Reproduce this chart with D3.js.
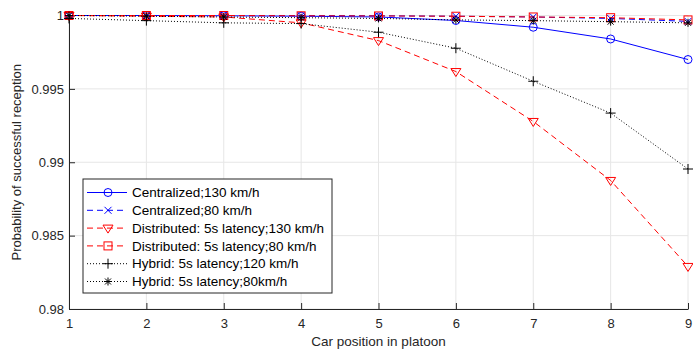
<!DOCTYPE html>
<html>
<head>
<meta charset="utf-8">
<script src="https://cdn.jsdelivr.net/npm/d3@7"></script>
<style>
  body { margin: 0; background: #fff; }
  svg { display: block; font-family: "Liberation Sans", Arial, sans-serif; }
</style>
</head>
<body>
<svg id="chart"></svg>
<script>
const positions = [1, 2, 3, 4, 5, 6, 7, 8, 9];
const centralized130 = [1.0, 1.0, 0.99998, 0.99995, 0.9999, 0.99966, 0.9992, 0.9984, 0.9970];
const centralized80 = [1.0, 1.0, 1.0, 0.99999, 0.99998, 0.99995, 0.9999, 0.9998, 0.9996];
const distributed130 = [1.0, 0.99995, 0.9999, 0.9995, 0.99829, 0.99618, 0.99278, 0.98876, 0.9829];
const distributed80 = [1.0, 1.0, 1.0, 0.99998, 0.99997, 0.99995, 0.9999, 0.99985, 0.9997];
const hybrid120 = [0.9998, 0.99965, 0.9995, 0.99945, 0.99886, 0.99777, 0.99552, 0.99335, 0.98954];
const hybrid80 = [1.0, 0.99995, 0.9999, 0.99985, 0.9998, 0.9997, 0.99965, 0.99958, 0.9995];
const yTicks = [0.98, 0.985, 0.99, 0.995, 1];

const series = [
  { name: "Centralized;130 km/h", values: centralized130, color: "#0000ff", dash: null, marker: "circle" },
  { name: "Centralized;80 km/h", values: centralized80, color: "#0000ff", dash: "6,4", marker: "x" },
  { name: "Distributed: 5s latency;130 km/h", values: distributed130, color: "#ff0000", dash: "6,4", marker: "triangle" },
  { name: "Distributed: 5s latency;80 km/h", values: distributed80, color: "#ff0000", dash: "6,4", marker: "square" },
  { name: "Hybrid: 5s latency;120 km/h", values: hybrid120, color: "#000000", dash: "1,2", marker: "plus" },
  { name: "Hybrid: 5s latency;80km/h", values: hybrid80, color: "#000000", dash: "1,2", marker: "star" }
];

const width = 693, height = 354;
const margin = { top: 15.5, right: 5, bottom: 45, left: 69 };

const svg = d3.select("#chart").attr("width", width).attr("height", height);

const x = d3.scaleLinear().domain([1, 9]).range([margin.left, width - margin.right]);
const y = d3.scaleLinear().domain([0.98, 1]).range([height - margin.bottom, margin.top]);

// grid
svg.append("g")
  .selectAll("line.vg")
  .data(positions)
  .join("line")
  .attr("x1", d => x(d)).attr("x2", d => x(d))
  .attr("y1", y(0.98)).attr("y2", y(1))
  .attr("stroke", "#e6e6e6").attr("stroke-width", 1);
svg.append("g")
  .selectAll("line.hg")
  .data(yTicks)
  .join("line")
  .attr("x1", x(1)).attr("x2", x(9))
  .attr("y1", d => y(d)).attr("y2", d => y(d))
  .attr("stroke", "#e6e6e6").attr("stroke-width", 1);

// axes (ticks pointing inward)
const xAxis = svg.append("g")
  .attr("transform", `translate(0,${y(0.98)})`)
  .call(d3.axisBottom(x).tickValues(positions).tickFormat(d3.format("d")).tickSizeInner(-6).tickSizeOuter(0).tickPadding(10));
const yAxis = svg.append("g")
  .attr("transform", `translate(${x(1)},0)`)
  .call(d3.axisLeft(y).tickValues(yTicks).tickFormat(d => d === 1 ? "1" : d3.format("")(d)).tickSizeInner(-6).tickSizeOuter(0).tickPadding(5));

[xAxis, yAxis].forEach(a => {
  a.select(".domain").attr("stroke", "#262626");
  a.selectAll(".tick line").attr("stroke", "#262626");
  a.selectAll(".tick text").attr("fill", "#262626").attr("font-size", 13).attr("font-family", "Liberation Sans, Arial, sans-serif");
});

svg.append("text")
  .attr("x", (x(1) + x(9)) / 2).attr("y", 346)
  .attr("text-anchor", "middle").attr("font-size", 13.5).attr("fill", "#262626")
  .text("Car position in platoon");
svg.append("text")
  .attr("transform", `translate(21,${(y(0.98) + y(1)) / 2}) rotate(-90)`)
  .attr("text-anchor", "middle").attr("font-size", 13).attr("fill", "#262626")
  .text("Probability of successful reception");

function drawMarker(g, type, color) {
  const r = 4;
  if (type === "circle") {
    g.append("circle").attr("r", r).attr("fill", "none").attr("stroke", color);
  } else if (type === "square") {
    g.append("rect").attr("x", -r).attr("y", -r).attr("width", 2 * r).attr("height", 2 * r)
      .attr("fill", "none").attr("stroke", color);
  } else if (type === "triangle") {
    g.append("path").attr("d", `M${-r - 1},${-r + 1}L${r + 1},${-r + 1}L0,${r + 1}Z`)
      .attr("fill", "none").attr("stroke", color);
  } else if (type === "x") {
    g.append("path").attr("d", `M${-3.5},${-3.5}L3.5,3.5M3.5,${-3.5}L${-3.5},3.5`).attr("stroke", color);
  } else if (type === "plus") {
    g.append("path").attr("d", `M-5,0H5M0,-5V5`).attr("stroke", color);
  } else if (type === "star") {
    g.append("path").attr("d", `M-4,0H4M0,-4V4M-3,-3L3,3M3,-3L-3,3`).attr("stroke", color);
  }
}

const line = d3.line().x((d, i) => x(positions[i])).y(d => y(d));

series.forEach(s => {
  const g = svg.append("g");
  g.append("path")
    .datum(s.values)
    .attr("d", line)
    .attr("fill", "none")
    .attr("stroke", s.color)
    .attr("stroke-width", 1)
    .attr("stroke-dasharray", s.dash);
  s.values.forEach((v, i) => {
    const m = g.append("g").attr("transform", `translate(${x(positions[i])},${y(v)})`);
    drawMarker(m, s.marker, s.color);
  });
});

// legend
const legend = svg.append("g").attr("transform", "translate(83,179)");
legend.append("rect")
  .attr("width", 249).attr("height", 114)
  .attr("fill", "#fff").attr("stroke", "#262626").attr("stroke-width", 1);
series.forEach((s, i) => {
  const row = legend.append("g").attr("transform", `translate(0,${13.5 + i * 17.8})`);
  row.append("line")
    .attr("x1", 4).attr("x2", 44).attr("y1", 0).attr("y2", 0)
    .attr("stroke", s.color).attr("stroke-width", 1)
    .attr("stroke-dasharray", s.dash);
  drawMarker(row.append("g").attr("transform", "translate(25,0)"), s.marker, s.color);
  row.append("text")
    .attr("x", 49).attr("y", 0).attr("dy", "0.35em")
    .attr("font-size", 13.5).attr("fill", "#000")
    .text(s.name);
});
</script>
</body>
</html>
